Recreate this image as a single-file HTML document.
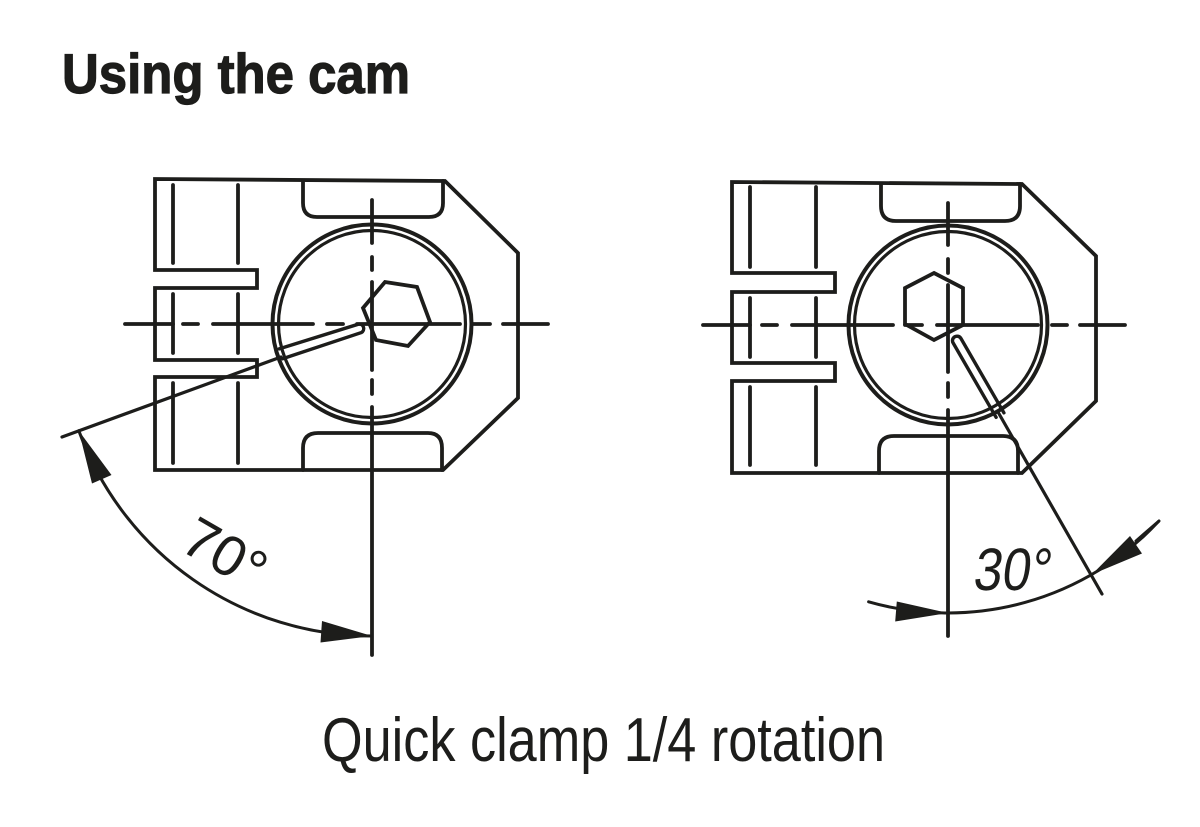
<!DOCTYPE html>
<html>
<head>
<meta charset="utf-8">
<style>
  html, body { margin:0; padding:0; background:#ffffff; }
  svg { display:block; }
</style>
</head>
<body>
<svg width="1200" height="827" viewBox="0 0 1200 827" xmlns="http://www.w3.org/2000/svg">
  <rect x="0" y="0" width="1200" height="827" fill="#ffffff"/>

  <!-- Title -->
  <text x="62" y="93" font-family="'Liberation Sans Narrow','Liberation Sans',sans-serif" font-weight="bold" font-size="56" fill="#1d1d1b" stroke="#1d1d1b" stroke-width="1.2" textLength="348" lengthAdjust="spacingAndGlyphs">Using the cam</text>

  <!-- Caption -->
  <text x="322" y="761" font-family="'Liberation Sans Narrow','Liberation Sans',sans-serif" font-size="62" fill="#1d1d1b" textLength="563" lengthAdjust="spacingAndGlyphs">Quick clamp 1/4 rotation</text>

  <g fill="none" stroke="#1d1d1b" stroke-width="3.8" stroke-linejoin="miter" stroke-linecap="round">
    <!-- ================= LEFT FIGURE ================= -->
    <path d="M155,179 L445,181 L518,253 L518,398 L443,470 L155,470 L155,377 L257,377 L257,360 L155,360 L155,288 L257,288 L257,270 L155,270 Z"/>
    <path d="M303,181 V203 Q303,217 317,217 H429 Q443,217 443,203 V181"/>
    <path d="M303,470 V448 Q303,433 318,433 H428 Q442,433 442,448 V470"/>
    <path d="M173,185 V263 M173,294 V353 M173,383 V463 M238,185 V263 M238,294 V353 M238,383 V463"/>
    <circle cx="372" cy="324" r="99.5" stroke-width="4"/>
    <circle cx="372" cy="324" r="93.5" stroke-width="3.2"/>
    <polygon points="385,282 417,287 430,322 408,346 376,340 363,308"/>
    <path d="M279.1,348.9 L358.3,324.2 A4.5,4.5 0 0 1 361.3,332.6 L282.5,358.8" stroke-width="3.4"/>
    <path d="M281,357 L62,437" stroke-width="3.2"/>
    <path d="M125,324 H173 M183,324 H198 M213,324 H313 M327,324 H343 M357,324 H460 M472,324 H490 M503,324 H548"/>
    <path d="M372,200 V243 M372,257 V270 M372,282 V370 M372,380 V394 M372,407 V655"/>
    <path d="M372,636 A312,312 0 0 1 78.8,430.7" stroke-width="3"/>

    <!-- ================= RIGHT FIGURE ================= -->
    <path d="M732,182 L1022,184 L1096,256 L1096,401 L1022,473 L732,473 L732,381 L835,381 L835,363 L732,363 L732,292 L835,292 L835,273 L732,273 Z"/>
    <path d="M881,184 V206 Q881,221 896,221 H1005 Q1020,221 1020,206 V184"/>
    <path d="M879,473 V451 Q879,436 894,436 H1003 Q1018,436 1018,451 V473"/>
    <path d="M750,187 V267 M750,298 V357 M750,387 V465 M816,187 V267 M816,298 V357 M816,387 V465"/>
    <circle cx="948" cy="325" r="99.5" stroke-width="4"/>
    <circle cx="948" cy="325" r="93.5" stroke-width="3.2"/>
    <polygon points="934,273 963,288 963,325 934,340 905,324 905,288"/>
    <path d="M1003.9,412.8 L960.9,338.4 A4.5,4.5 0 0 0 953.1,342.9 L996.1,417.3" stroke-width="3.4"/>
    <path d="M998,412 L1102,594" stroke-width="3.2"/>
    <path d="M1136,541 L1159,521" stroke-width="3"/>
    <path d="M703,325 H750 M762,325 H777 M792,325 H893 M905,325 H922 M937,325 H1038 M1052,325 H1067 M1080,325 H1125"/>
    <path d="M948,203 V245 M948,259 V273 M948,285 V372 M948,383 V397 M948,410 V636"/>
    <path d="M868.6,601.8 A288,288 0 0 0 1158.6,521.4" stroke-width="3"/>
  </g>

  <!-- arrowheads -->
  <g fill="#1d1d1b" stroke="none">
    <polygon points="372,636 320.5,642.5 322,621"/>
    <polygon points="78.8,430.7 111.5,475 92,483.5"/>
    <polygon points="948,613 896.8,601.5 895.2,621.5"/>
    <polygon points="1092,574.4 1142,553.5 1130,536"/>
  </g>

  <!-- angle labels -->
  <g transform="translate(178,549) rotate(30)">
    <text x="0" y="0" font-family="'Liberation Sans',sans-serif" font-size="57" fill="#1d1d1b" textLength="86" lengthAdjust="spacingAndGlyphs">70°</text>
  </g>
  <g transform="translate(972,590) skewX(-8)">
    <text x="0" y="0" font-family="'Liberation Sans Narrow','Liberation Sans',sans-serif" font-size="60" fill="#1d1d1b" textLength="77" lengthAdjust="spacingAndGlyphs">30°</text>
  </g>
</svg>
</body>
</html>
